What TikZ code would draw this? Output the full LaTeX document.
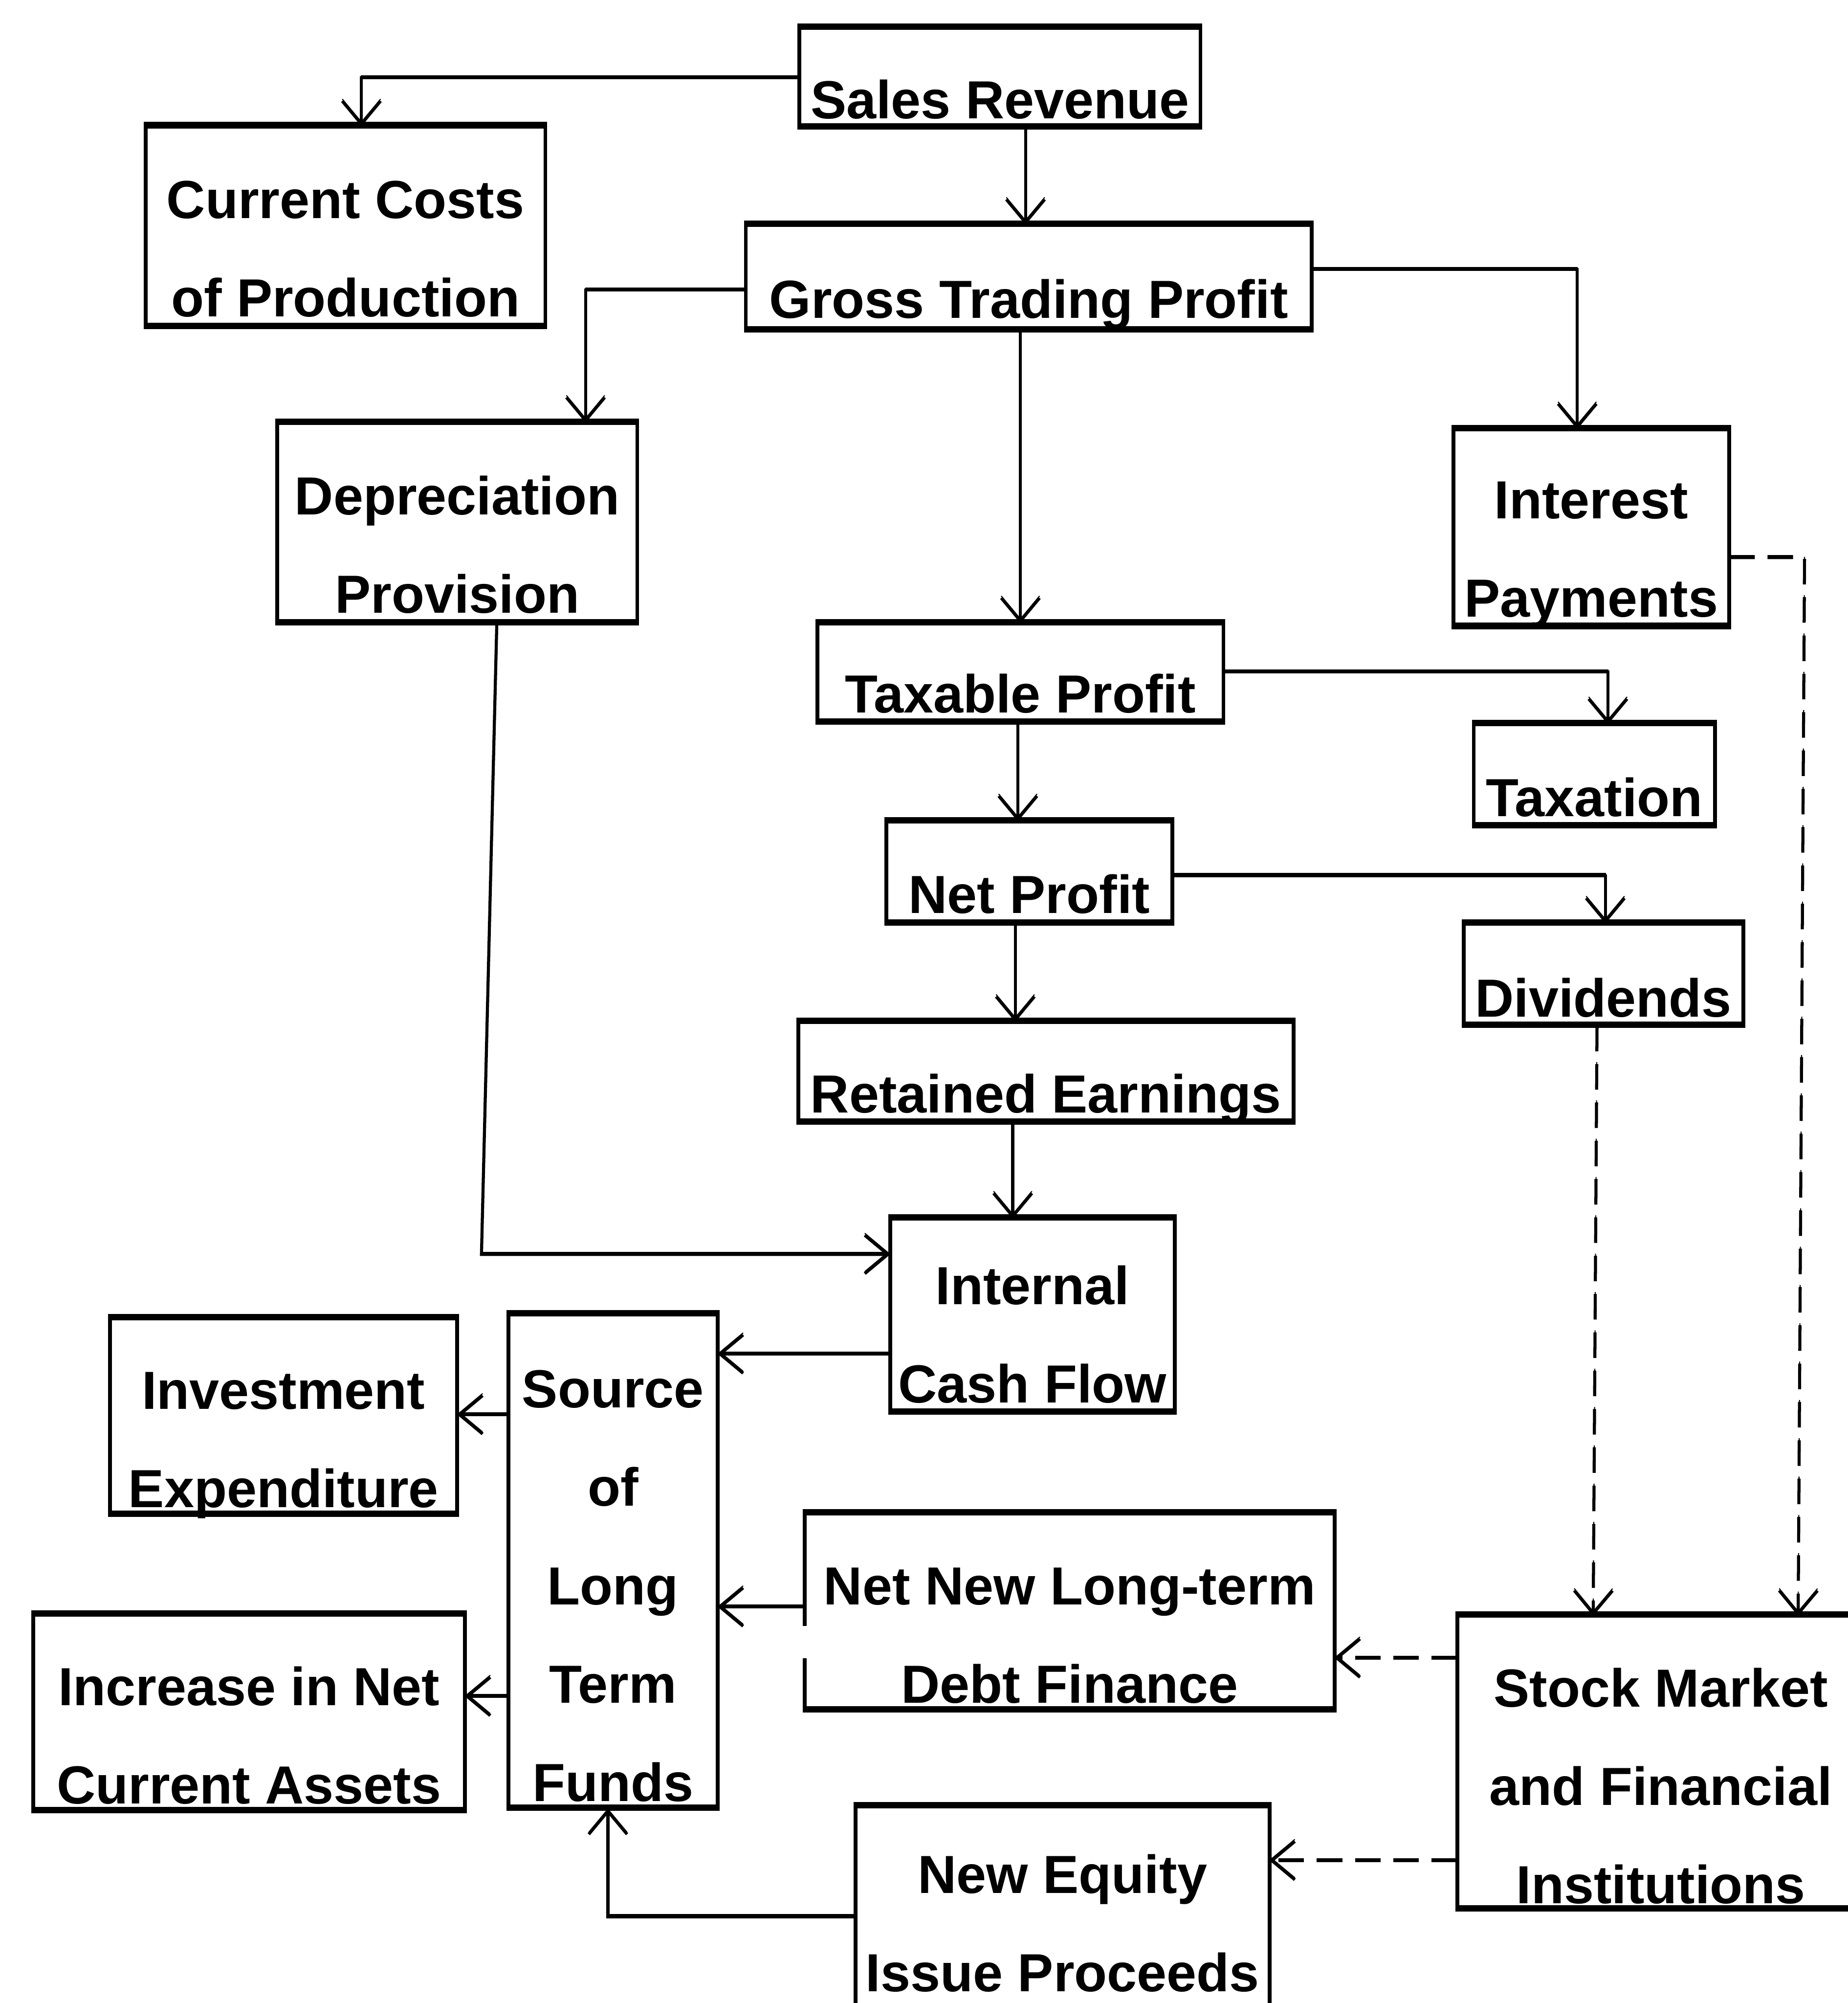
\documentclass[tikz,border=0pt]{standalone}
\usepackage{fontspec}
\setmainfont{Liberation Sans}
\usepackage{tikz}
\usetikzlibrary{arrows.meta,positioning,fit,calc}

\tikzset{
  pen/.style={line width=1.5pt, preaction={draw, transform canvas={yshift=1pt}}},
  boxframe/.style={draw, pen, inner sep=0pt, outer sep=0pt},
  boxtext/.style={font=\bfseries\fontsize{21}{25}\selectfont, anchor=base, inner sep=0pt},
  barb/.style={-{Straight Barb[length=9pt,width=15pt]}},
  flow/.style={line width=1.2pt, preaction={draw, transform canvas={yshift=0.8pt}}, barb},
  dashflow/.style={line width=1.2pt, dash pattern=on 10pt off 5pt,
    preaction={draw, dash pattern=on 10pt off 5pt, transform canvas={yshift=0.8pt}}, barb},
}

\begin{document}
\begin{tikzpicture}[x=0.5pt,y=-0.5pt]
  \useasboundingbox (0,0) rectangle (1447,1568);
  \clip (0,0) rectangle (1447,1568);

  \newcommand{\flowbox}[7]{%
    \node[boxframe, fit={(#2,#3) (#4,#5)}] (#1) {};
    \foreach \txt [count=\k] in {#7}
      \node[boxtext] (#1-\k) at ({(#2+#4)/2},{#6+77*(\k-1)}) {\txt};
  }

  \flowbox{sales}{626}{22}{940}{100}{93}{Sales Revenue}
  \flowbox{costs}{114}{99}{427}{256}{171}{Current Costs,of Production}
  \flowbox{gross}{584}{176}{1027}{259}{249}{Gross Trading Profit}
  \flowbox{deprec}{217}{331}{499}{488}{403}{Depreciation,Provision}
  \flowbox{interest}{1138}{336}{1354}{491}{406}{Interest,Payments}
  \flowbox{taxable}{640}{488}{958}{566}{558}{Taxable Profit}
  \flowbox{taxation}{1154}{567}{1343}{647}{639}{Taxation}
  \flowbox{netprofit}{694}{643}{918}{723}{715}{Net Profit}
  \flowbox{dividends}{1146}{723}{1365}{803}{796}{Dividends}
  \flowbox{retained}{625}{800}{1013}{879}{871}{Retained Earnings}
  \flowbox{internal}{697}{954}{920}{1106}{1021}{Internal,Cash Flow}
  \flowbox{invest}{86}{1032}{358}{1186}{1103}{Investment,Expenditure}
  \flowbox{source}{398}{1029}{562}{1416}{1102}{Source,of,Long,Term,Funds}
  \flowbox{debt}{630}{1185}{1045}{1339}{1256}{Net New Long-term,Debt Finance}
  \flowbox{increase}{26}{1264}{364}{1418}{1335}{Increase in Net,Current Assets}
  \flowbox{stock}{1141}{1265}{1460}{1495}{1336}{Stock Market,and Financial,Institutions}
  \flowbox{equity}{670}{1414}{994}{1580}{1482}{New Equity,Issue Proceeds}

  % break in the left side of the debt box
  \draw[white, line width=4pt] ($(debt.north west)+(0,88)$) -- ($(debt.north west)+(0,113)$);

  \draw[flow] (sales.west) -| ($(costs.north)+(12.5,0)$);
  \draw[flow] ($(sales.south)+(20,0)$) -- ($(gross.north)+(-2.5,0)$);
  \draw[flow] ($(gross.west)+(0,9.5)$) -| ($(deprec.north)+(100.5,0)$);
  \draw[flow] ($(gross.east)+(0,-6.5)$) -| ($(interest.north)+(-11,0)$);
  \draw[flow] (gross.south -| taxable.north) -- (taxable.north);
  \draw[flow] ($(taxable.east)+(0,-1)$) -| ($(taxation.north)+(10.5,0)$);
  \draw[flow] ($(taxable.south)+(-2,0)$) -- ($(netprofit.north)+(-9,0)$);
  \draw[flow] ($(netprofit.east)+(0,2.5)$) -| ($(dividends.north)+(1.5,0)$);
  \draw[flow] ($(netprofit.south)+(-11,0)$) -- ($(retained.north)+(-24,0)$);
  \draw[flow] ($(retained.south)+(-26,0)$) -- ($(internal.north)+(-15.5,0)$);
  \draw[flow] ($(deprec.south)+(31,0)$) -- ($(internal.west)+(-320,-48)$)
    -- ($(internal.west)+(0,-48)$);
  \draw[flow] ($(internal.west)+(0,30)$) -- ($(source.east)+(0,-162.5)$);
  \draw[flow] ($(source.west)+(0,-115)$) -- ($(invest.east)+(0,-1.5)$);
  \draw[flow] ($(debt.west)+(0,-4)$) -- ($(source.east)+(0,35.5)$);
  \draw[flow] ($(source.west)+(0,105.5)$) -- ($(increase.east)+(0,-13)$);
  \draw[flow] ($(equity.west)+(0,3.5)$) -| ($(source.south)+(-4,0)$);

  \draw[dashflow] ($(interest.east)+(0,23)$) -- ($(interest.east)+(59,23)$)
    -- ($(stock.north)+(107.5,0)$);
  \draw[dashflow] ($(dividends.south)+(-5,0)$) -- ($(stock.north)+(-53,0)$);
  \draw[dashflow] ($(stock.west)+(0,-82)$) -- ($(debt.east)+(0,36)$);
  \draw[dashflow] ($(stock.west)+(0,76.5)$) -- ($(equity.east)+(0,-40.5)$);
\end{tikzpicture}
\end{document}
